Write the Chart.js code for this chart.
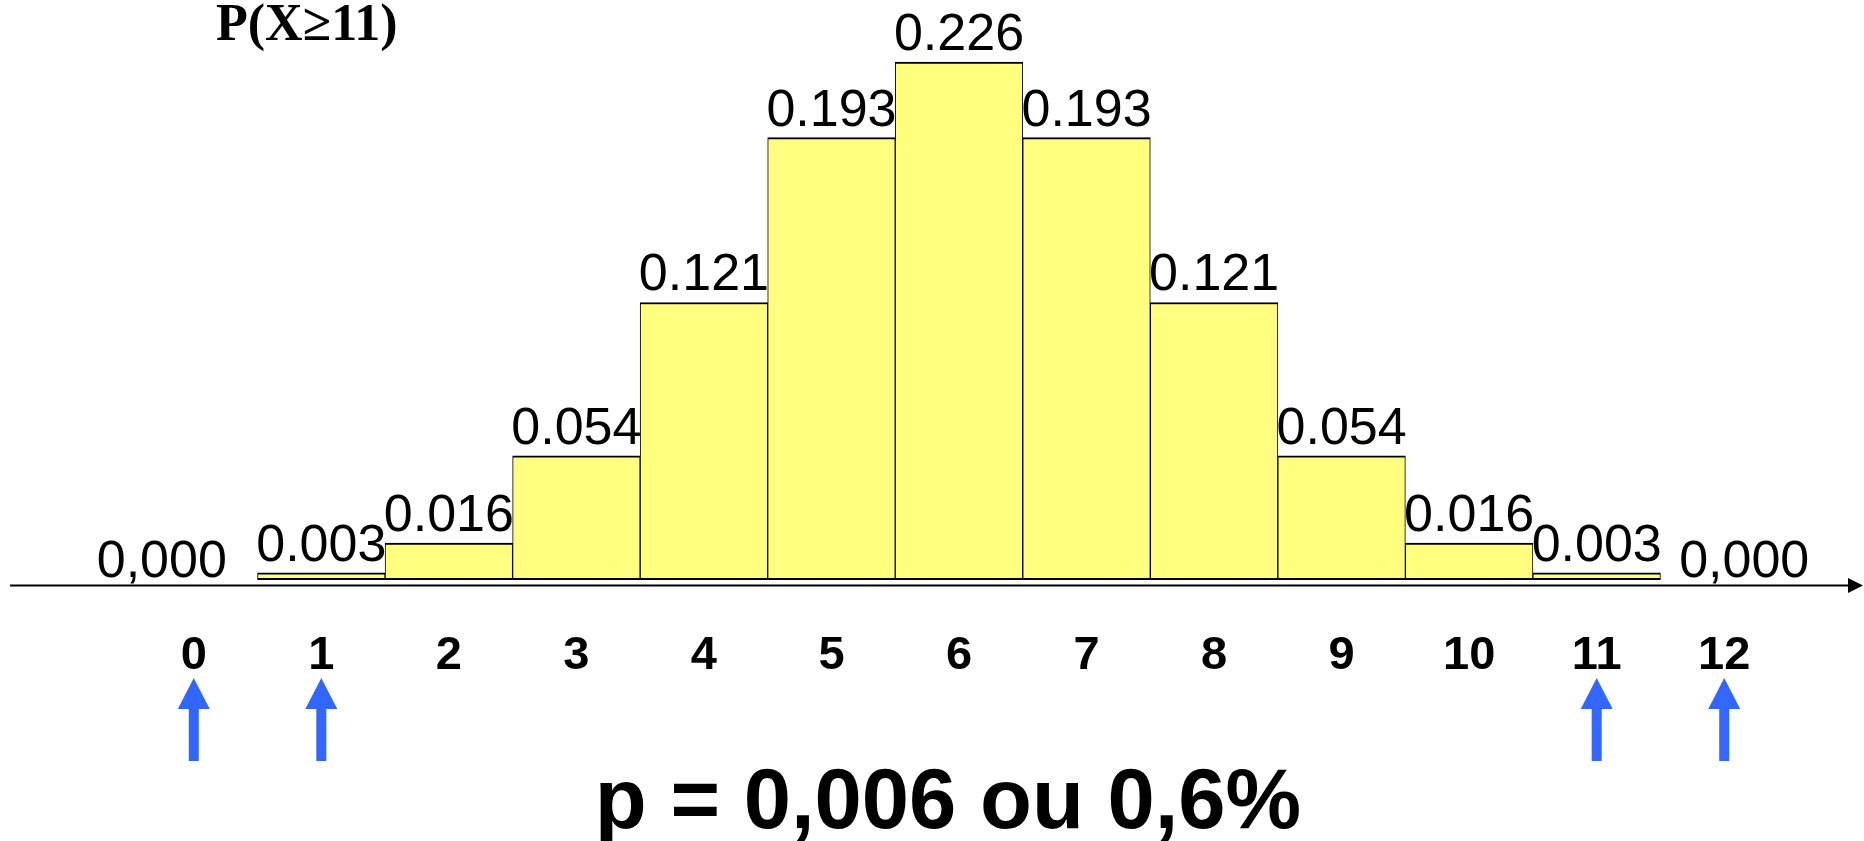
<!DOCTYPE html>
<html>
<head>
<meta charset="utf-8">
<script src="https://cdn.jsdelivr.net/npm/chart.js@4.4.0/dist/chart.umd.min.js"></script>
<style>
  html, body { margin: 0; padding: 0; background: #fff; }
  #wrap { width: 1864px; height: 841px; }
</style>
</head>
<body>
<div id="wrap"><canvas id="binomChart" width="1864" height="841"></canvas></div>
<script>
// B(12, 0.5) - probability of each number of successes
const categories = ['0', '1', '2', '3', '4', '5', '6', '7', '8', '9', '10', '11', '12'];
const probabilities = [0, 0.003, 0.016, 0.054, 0.121, 0.193, 0.226, 0.193, 0.121, 0.054, 0.016, 0.003, 0];
// both tails counted in the p-value
const tailCategories = ['0', '1', '11', '12'];
const titleText = 'P(X≥11)';
const resultText = 'p = 0,006 ou 0,6%';

const sans = '"Liberation Sans", Arial, sans-serif';

function formatProb(v) {
    return v === 0 ? '0,000' : v.toFixed(3);
}

const overlay = {
    id: 'overlay',
    afterDatasetsDraw(chart) {
        const ctx = chart.ctx;
        const meta = chart.getDatasetMeta(0);
        const xScale = chart.scales.x;
        const area = chart.chartArea;
        const mid = (area.left + area.right) / 2;

        ctx.save();

        // value above each bar (empty bars: label sits on the axis, pushed outwards)
        ctx.font = '52px ' + sans;
        ctx.fillStyle = '#000';
        ctx.textAlign = 'center';
        ctx.textBaseline = 'alphabetic';
        meta.data.forEach((bar, i) => {
            const v = probabilities[i];
            if (v === 0) {
                const shift = bar.x < mid ? -32 : 20;
                ctx.fillText(formatProb(v), bar.x + shift, bar.y - 3);
            } else {
                ctx.fillText(formatProb(v), bar.x, bar.y - 12);
            }
        });

        // x axis line ending in an arrow
        const axisY = area.bottom + 6;
        ctx.strokeStyle = '#000';
        ctx.lineWidth = 2;
        ctx.beginPath();
        ctx.moveTo(10, axisY);
        ctx.lineTo(1852, axisY);
        ctx.stroke();
        ctx.beginPath();
        ctx.moveTo(1863, axisY);
        ctx.lineTo(1848, axisY - 7.5);
        ctx.lineTo(1848, axisY + 7.5);
        ctx.closePath();
        ctx.fillStyle = '#000';
        ctx.fill();

        // blue arrows pointing at the tail values
        ctx.fillStyle = '#3366ff';
        tailCategories.forEach(c => {
            const cx = xScale.getPixelForValue(categories.indexOf(c));
            ctx.beginPath();
            ctx.moveTo(cx, 678);
            ctx.lineTo(cx + 16, 709);
            ctx.lineTo(cx + 5, 709);
            ctx.lineTo(cx + 5, 761);
            ctx.lineTo(cx - 5, 761);
            ctx.lineTo(cx - 5, 709);
            ctx.lineTo(cx - 16, 709);
            ctx.closePath();
            ctx.fill();
        });

        // title top left
        ctx.fillStyle = '#000';
        ctx.textAlign = 'left';
        ctx.font = 'bold 52px "Liberation Serif", "Times New Roman", serif';
        ctx.fillText(titleText, 216, 40);

        // result under the chart
        ctx.textAlign = 'center';
        ctx.font = 'bold 85px ' + sans;
        ctx.fillText(resultText, 948, 828);

        ctx.restore();
    }
};

function createChart() {
    const ctx = document.getElementById('binomChart').getContext('2d');

    return new Chart(ctx, {
        type: 'bar',
        data: {
            labels: categories,
            datasets: [{
                data: probabilities,
                backgroundColor: '#ffff80',
                borderColor: '#000',
                borderWidth: { top: 2, bottom: 2, left: 1, right: 1 },
                borderSkipped: false,
                categoryPercentage: 1,
                barPercentage: 1,
                clip: false
            }]
        },
        options: {
            responsive: false,
            animation: false,
            layout: {
                padding: { left: 130, right: 76, top: 62, bottom: 109 }
            },
            plugins: {
                legend: { display: false },
                tooltip: { enabled: false }
            },
            scales: {
                x: {
                    grid: { display: false, drawTicks: false },
                    border: { display: false },
                    ticks: {
                        color: '#000',
                        padding: 48,
                        font: { family: sans, size: 47, weight: 'bold' }
                    }
                },
                y: {
                    display: false,
                    min: 0,
                    max: 0.226
                }
            }
        },
        plugins: [overlay]
    });
}

createChart();
</script>
</body>
</html>
